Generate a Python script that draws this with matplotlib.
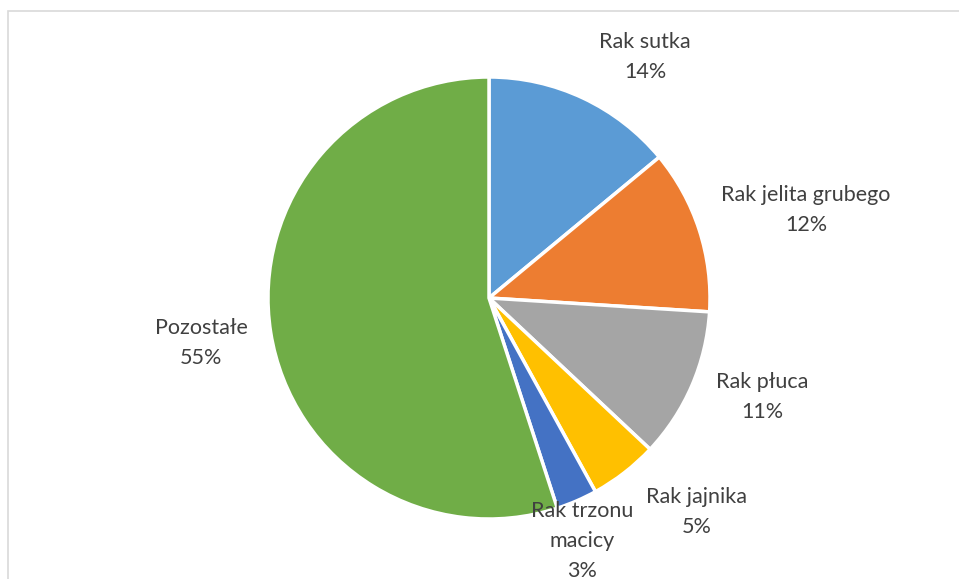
import matplotlib
matplotlib.use("Agg")
import matplotlib.pyplot as plt
from matplotlib.patches import Rectangle

categories = ["Rak sutka", "Rak jelita grubego", "Rak płuca", "Rak jajnika",
              "Rak trzonu\nmacicy", "Pozostałe"]
values = [14, 12, 11, 5, 3, 55]
colors = ["#5B9BD5", "#ED7D31", "#A5A5A5", "#FFC000", "#4472C4", "#70AD47"]

W, H = 959, 579
fig = plt.figure(figsize=(W / 100, H / 100), dpi=100)
plt.rcParams['font.family'] = ['Lato', 'DejaVu Sans']

# chart frame
fig.patches.append(Rectangle((8 / W, -0.1), 1.2, (H - 10.5) / H + 0.1,
                             transform=fig.transFigure, fill=False,
                             edgecolor="#D9D9D9", linewidth=1.2))

cx, cy, r = 489, 298, 221
ax = fig.add_axes([(cx - r) / W, (H - cy - r) / H, 2 * r / W, 2 * r / H])
ax.pie(values, colors=colors, startangle=90, counterclock=False,
       wedgeprops=dict(edgecolor="white", linewidth=2.5))
ax.set_xlim(-1, 1)
ax.set_ylim(-1, 1)
ax.set_aspect('auto')
ax.axis('off')

label_pos = [(645, 57), (806, 210), (762, 397), (697, 512), (582, 541), (201, 343)]
for cat, v, (px, py) in zip(categories, values, label_pos):
    fig.text(px / W, 1 - py / H, f"{cat}\n{v}%", ha="center", va="center",
             fontsize=15.5, color="#404040", linespacing=1.62)

fig.savefig("out.png", dpi=100)
